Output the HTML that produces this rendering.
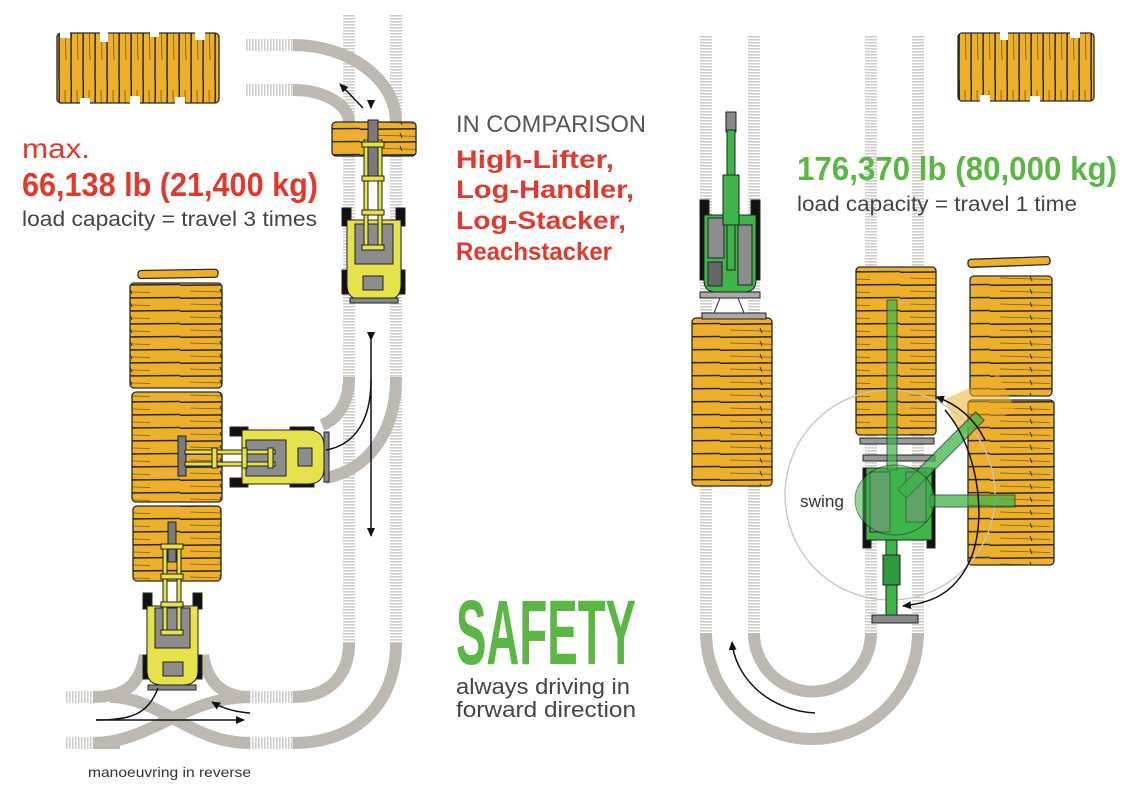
<!DOCTYPE html>
<html><head><meta charset="utf-8"><style>
html,body{margin:0;padding:0;background:#fff;}
svg{display:block;}
text{font-family:"Liberation Sans Narrow","Liberation Sans",sans-serif;}
</style></head><body>
<svg width="1142" height="796" viewBox="0 0 1142 796" xmlns="http://www.w3.org/2000/svg">
<defs>
<pattern id="rv" width="12" height="3" patternUnits="userSpaceOnUse"><rect width="12" height="1.6" fill="#cfcdca"/></pattern>
<pattern id="rh" width="3" height="12" patternUnits="userSpaceOnUse"><rect width="1.6" height="12" fill="#cfcdca"/></pattern>
<pattern id="hl" width="90" height="13" patternUnits="userSpaceOnUse"><rect width="90" height="13" fill="#eeb02b"/><line x1="0" y1="12.3" x2="90" y2="11.5" stroke="#2a2a2a" stroke-width="1.5"/><line x1="10" y1="5" x2="60" y2="6.5" stroke="#7a5a10" stroke-width="0.8"/><line x1="40" y1="3" x2="42" y2="8" stroke="#2a2a2a" stroke-width="1"/></pattern>
<pattern id="vl" width="12" height="80" patternUnits="userSpaceOnUse"><rect width="12" height="80" fill="#eeb02b"/><line x1="11.3" y1="0" x2="11" y2="80" stroke="#2a2a2a" stroke-width="1.5"/><line x1="5" y1="10" x2="6" y2="60" stroke="#7a5a10" stroke-width="0.8"/></pattern>
<marker id="ah" markerWidth="10" markerHeight="10" refX="8" refY="5" orient="auto" markerUnits="userSpaceOnUse"><path d="M0,1 L9,5 L0,9 Z" fill="#111"/></marker>
</defs>

<!-- LEFT ROADS -->
<rect x="343" y="15" width="12" height="630" fill="url(#rv)"/>
<rect x="390" y="15" width="12" height="630" fill="url(#rv)"/>
<rect x="245" y="39" width="48" height="12" fill="url(#rh)"/>
<rect x="245" y="84" width="48" height="12" fill="url(#rh)"/>
<g fill="none" stroke="#bdb9b2" stroke-width="12">
<path d="M293,45 C350,45 396,80 396,122"/>
<path d="M293,90 C325,90 349,105 349,122"/>
<path d="M349,377 C349,400 340,418 322,425"/>
<path d="M396,377 C396,430 370,470 325,478"/>
<path d="M349,643 C349,675 330,697 293,697"/>
<path d="M396,643 C396,700 360,743 293,743"/>
<path d="M93,697 C125,697 140,685 145,655"/>
<path d="M203,655 C208,685 225,697 250,697"/>
<path d="M93,743 C150,743 185,697 250,697"/>
<path d="M110,697 C160,697 190,743 250,743"/>
<path d="M93,743 L120,743"/>
</g>
<rect x="250" y="691" width="43" height="12" fill="url(#rh)"/>
<rect x="250" y="737" width="43" height="12" fill="url(#rh)"/>
<rect x="65" y="691" width="28" height="12" fill="url(#rh)"/>
<rect x="65" y="737" width="28" height="12" fill="url(#rh)"/>

<!-- RIGHT ROADS -->
<rect x="700" y="35" width="12" height="598" fill="url(#rv)"/>
<rect x="748" y="35" width="12" height="598" fill="url(#rv)"/>
<rect x="865" y="35" width="12" height="598" fill="url(#rv)"/>
<rect x="912" y="35" width="12" height="598" fill="url(#rv)"/>
<g fill="none" stroke="#bdb9b2" stroke-width="12">
<path d="M706,633 A106,106 0 0 0 918,633"/>
<path d="M754,633 A58,58 0 0 0 871,633"/>
</g>

<!-- TOP LOG PILES (upright) -->
<g stroke="#2a2a2a" stroke-width="1.3">
<rect x="57" y="33" width="162" height="70" fill="url(#vl)" rx="4"/>
<rect x="958" y="33" width="136" height="68" fill="url(#vl)" rx="4"/>
</g>
<g fill="#fff">
<rect x="60" y="30" width="10" height="8"/><rect x="100" y="30" width="8" height="12"/><rect x="150" y="28" width="9" height="9"/><rect x="195" y="30" width="10" height="10"/>
<rect x="80" y="98" width="10" height="8"/><rect x="130" y="96" width="10" height="10"/><rect x="175" y="97" width="10" height="8"/>
<rect x="980" y="95" width="10" height="10"/><rect x="1030" y="96" width="10" height="8"/><rect x="1070" y="30" width="10" height="8"/><rect x="1000" y="30" width="8" height="10"/>
</g>

<!-- LOG STACKS -->
<g stroke="#2a2a2a" stroke-width="1.3">
<rect x="138" y="270" width="80" height="8" rx="3" fill="#eeb02b" transform="rotate(-1 170 274)"/>
<rect x="130" y="283" width="92" height="105" fill="url(#hl)" rx="4"/>
<rect x="132" y="392" width="90" height="110" fill="url(#hl)" rx="4"/>
<rect x="133" y="506" width="88" height="75" fill="url(#hl)" rx="4"/>
<rect x="332" y="122" width="84" height="34" fill="url(#hl)" rx="4"/>
<rect x="692" y="318" width="80" height="168" fill="url(#hl)" rx="4"/>
<rect x="856" y="267" width="80" height="168" fill="url(#hl)" rx="4"/>
<rect x="968" y="258" width="82" height="8" rx="3" fill="#eeb02b" transform="rotate(-2 1008 262)"/>
<rect x="970" y="276" width="82" height="120" fill="url(#hl)" rx="4"/>
<rect x="968" y="400" width="86" height="165" fill="url(#hl)" rx="4"/>
</g>
<!-- translucent swung stack -->
<rect x="950" y="385" width="60" height="40" fill="#eeb02b" opacity="0.55" transform="rotate(-25 980 405)"/>

<!-- TOP FORKLIFT -->
<g stroke="#222" stroke-width="1">
<rect x="342" y="208" width="9" height="18" fill="#111"/><rect x="396" y="208" width="9" height="18" fill="#111"/>
<rect x="342" y="270" width="9" height="24" fill="#111"/><rect x="396" y="270" width="9" height="24" fill="#111"/>
<path d="M347,220 H401 V285 Q401,300 385,300 H363 Q347,300 347,285 Z" fill="#e6e24b"/>
<rect x="355" y="224" width="38" height="40" fill="#8c8c8c"/>
<rect x="363" y="276" width="20" height="14" fill="#8c8c8c"/>
<rect x="350" y="298" width="48" height="5" fill="#888"/>
<rect x="368" y="120" width="10" height="60" fill="#7a7a7a"/>
<rect x="364" y="140" width="4" height="110" fill="#e6e24b"/><rect x="378" y="140" width="4" height="110" fill="#e6e24b"/>
<rect x="362" y="142" width="22" height="5" fill="#e6e24b"/><rect x="362" y="176" width="22" height="5" fill="#e6e24b"/><rect x="362" y="210" width="22" height="5" fill="#e6e24b"/><rect x="362" y="245" width="22" height="5" fill="#e6e24b"/>
</g>

<!-- MIDDLE FORKLIFT (horizontal) -->
<g stroke="#222" stroke-width="1">
<rect x="230" y="427" width="18" height="9" fill="#111"/><rect x="230" y="478" width="18" height="9" fill="#111"/>
<rect x="290" y="427" width="24" height="9" fill="#111"/><rect x="290" y="478" width="24" height="9" fill="#111"/>
<path d="M242,430 H308 Q324,430 324,446 V468 Q324,484 308,484 H242 Z" fill="#e6e24b"/>
<rect x="246" y="440" width="40" height="36" fill="#8c8c8c"/>
<rect x="298" y="448" width="14" height="18" fill="#8c8c8c"/>
<rect x="324" y="432" width="5" height="50" fill="#888"/>
<rect x="178" y="436" width="8" height="40" fill="#7a7a7a"/>
<rect x="185" y="450" width="90" height="4" fill="#e6e24b"/><rect x="185" y="462" width="90" height="4" fill="#e6e24b"/>
<rect x="212" y="448" width="5" height="20" fill="#e6e24b"/><rect x="242" y="448" width="5" height="20" fill="#e6e24b"/><rect x="268" y="448" width="5" height="20" fill="#e6e24b"/>
</g>

<!-- BOTTOM FORKLIFT -->
<g stroke="#222" stroke-width="1">
<rect x="143" y="593" width="9" height="16" fill="#111"/><rect x="193" y="593" width="9" height="16" fill="#111"/>
<rect x="143" y="655" width="9" height="24" fill="#111"/><rect x="193" y="655" width="9" height="24" fill="#111"/>
<path d="M147,606 H198 V670 Q198,685 183,685 H162 Q147,685 147,670 Z" fill="#e6e24b"/>
<rect x="155" y="608" width="35" height="40" fill="#8c8c8c"/>
<rect x="163" y="662" width="20" height="14" fill="#8c8c8c"/>
<rect x="148" y="685" width="48" height="5" fill="#888"/>
<rect x="168" y="522" width="8" height="40" fill="#7a7a7a"/>
<rect x="163" y="545" width="4" height="90" fill="#e6e24b"/><rect x="177" y="545" width="4" height="90" fill="#e6e24b"/>
<rect x="161" y="544" width="22" height="5" fill="#e6e24b"/><rect x="161" y="574" width="22" height="5" fill="#e6e24b"/><rect x="161" y="602" width="22" height="5" fill="#e6e24b"/><rect x="161" y="630" width="22" height="5" fill="#e6e24b"/>
</g>

<!-- TOP GREEN MACHINE -->
<g stroke="#222" stroke-width="1">
<rect x="700" y="200" width="9" height="80" fill="#111"/><rect x="751" y="200" width="9" height="80" fill="#111"/>
<path d="M704,215 H756 V280 Q756,292 744,292 H716 Q704,292 704,280 Z" fill="#3db54a"/>
<rect x="708" y="218" width="16" height="40" fill="#8c8c8c"/><rect x="738" y="225" width="14" height="60" fill="#8c8c8c"/>
<rect x="708" y="262" width="14" height="24" fill="#666"/>
<rect x="700" y="292" width="60" height="6" fill="#aaa"/>
<rect x="702" y="313" width="64" height="6" fill="#aaa"/>
<line x1="720" y1="298" x2="714" y2="313"/><line x1="738" y1="298" x2="744" y2="313"/>
<rect x="726" y="112" width="10" height="20" fill="#888"/>
<rect x="727" y="130" width="8" height="140" fill="#3db54a"/>
<rect x="723" y="175" width="16" height="50" fill="#3db54a"/>
</g>

<!-- SWING CIRCLE -->
<circle cx="890" cy="495" r="105" fill="none" stroke="#c9c4bd" stroke-width="1.3"/>

<!-- LOWER GREEN MACHINE -->
<g stroke="#222" stroke-width="1">
<rect x="860" y="438" width="74" height="6" fill="#999"/>
<rect x="863" y="455" width="72" height="6" fill="#999"/>
<rect x="863" y="468" width="8" height="80" fill="#111"/><rect x="927" y="468" width="8" height="80" fill="#111"/>
<rect x="866" y="468" width="66" height="72" fill="#3db54a"/>
<rect x="870" y="472" width="20" height="60" fill="#8c8c8c"/><rect x="906" y="472" width="20" height="50" fill="#8c8c8c"/>
<rect x="887" y="300" width="10" height="170" fill="#3db54a" opacity="0.7"/>
<rect x="886" y="540" width="11" height="75" fill="#3db54a"/>
<rect x="883" y="555" width="17" height="30" fill="#2f9a3d"/>
<rect x="872" y="615" width="46" height="8" fill="#888"/>
<rect x="930" y="495" width="85" height="12" fill="#3db54a" opacity="0.75"/>
<rect x="935" y="400" width="12" height="110" fill="#3db54a" opacity="0.75" transform="rotate(45 941 455)"/>
<ellipse cx="895" cy="500" rx="40" ry="35" fill="#3db54a" opacity="0.55"/>
</g>

<!-- ARROWS -->
<g fill="none" stroke="#111" stroke-width="1.5">
<path d="M363,108 L340,84" marker-end="url(#ah)"/>
<path d="M371,100 L371,108" marker-end="url(#ah)"/>
<path d="M371,340 L371,536" marker-end="url(#ah)" marker-start="url(#ah)"/>
<path d="M371,380 C371,420 355,445 326,450"/>
<path d="M96,720 L244,720" marker-end="url(#ah)"/>
<path d="M96,720 C130,720 148,715 158,688"/>
<path d="M250,713 C235,712 222,708 212,702" marker-end="url(#ah)"/>
<path d="M815,713 C765,710 735,675 732,642" marker-end="url(#ah)"/>
<path d="M945,410 C980,450 990,530 965,570 C950,595 930,603 903,606" marker-end="url(#ah)"/>
<path d="M985,440 C975,420 960,405 936,397" marker-end="url(#ah)"/>
</g>

<!-- TEXT -->
<text x="22" y="158" font-size="28" fill="#e03a2e" textLength="68" lengthAdjust="spacingAndGlyphs">max.</text>
<text x="22" y="196" font-size="33" font-weight="bold" fill="#e03a2e" textLength="296" lengthAdjust="spacingAndGlyphs">66,138 lb (21,400 kg)</text>
<text x="22" y="226" font-size="21" fill="#444" textLength="295" lengthAdjust="spacingAndGlyphs">load capacity = travel 3 times</text>
<text x="456" y="132" font-size="24" fill="#555" textLength="190" lengthAdjust="spacingAndGlyphs">IN COMPARISON</text>
<g font-size="25" font-weight="bold" fill="#e03a2e">
<text x="456" y="168" textLength="158" lengthAdjust="spacingAndGlyphs">High-Lifter,</text>
<text x="456" y="198" textLength="178" lengthAdjust="spacingAndGlyphs">Log-Handler,</text>
<text x="456" y="229" textLength="170" lengthAdjust="spacingAndGlyphs">Log-Stacker,</text>
<text x="456" y="260" textLength="156" lengthAdjust="spacingAndGlyphs">Reachstacker</text>
</g>
<text x="456" y="664" font-size="92" font-weight="bold" fill="#5cb646" textLength="180" lengthAdjust="spacingAndGlyphs">SAFETY</text>
<text x="456" y="694" font-size="22" fill="#444" textLength="174" lengthAdjust="spacingAndGlyphs">always driving in</text>
<text x="456" y="717" font-size="22" fill="#444" textLength="180" lengthAdjust="spacingAndGlyphs">forward direction</text>
<text x="797" y="180" font-size="33" font-weight="bold" fill="#5cb646" textLength="320" lengthAdjust="spacingAndGlyphs">176,370 lb (80,000 kg)</text>
<text x="797" y="211" font-size="21" fill="#444" textLength="280" lengthAdjust="spacingAndGlyphs">load capacity = travel 1 time</text>
<text x="800" y="507" font-size="17" fill="#333" textLength="44" lengthAdjust="spacingAndGlyphs">swing</text>
<text x="88" y="777" font-size="14" fill="#333" textLength="163" lengthAdjust="spacingAndGlyphs">manoeuvring in reverse</text>
</svg>
</body></html>
